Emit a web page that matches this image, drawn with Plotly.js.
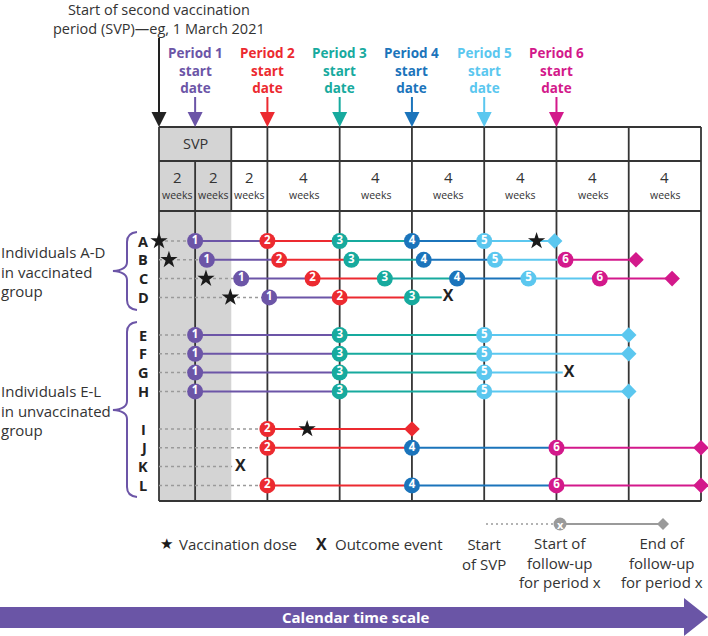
<!DOCTYPE html>
<html><head><meta charset="utf-8">
<script src="https://cdn.plot.ly/plotly-3.0.1.min.js"></script>
<style>html,body{margin:0;padding:0;background:#fff}#chart{width:708px;height:636px}</style>
</head><body><div id="chart"></div>
<script>
// ---------------- data ----------------
const weekBlocks = [2, 2, 2, 4, 4, 4, 4, 4, 4];
const blockLabels = ['2', '2', '2', '4', '4', '4', '4', '4', '4'];
const periodNames = ['Period 1', 'Period 2', 'Period 3', 'Period 4', 'Period 5', 'Period 6'];
const periodStart = [2, 6, 10, 14, 18, 22];
const periodColor = ['#6c55a7', '#ec2a30', '#17aa9e', '#1b74bb', '#5bc7ef', '#d3198b'];
const people = ['A', 'B', 'C', 'D', 'E', 'F', 'G', 'H', 'I', 'J', 'K', 'L'];
const rowIndex = [0, 1, 2, 3, 5, 6, 7, 8, 10, 11, 12, 13];
const doseWeeks = [[0, 20.9], [0.55], [2.6], [3.95], [], [], [], [], [8.2], [], [], []];
const visitPeriods = [
  [1, 2, 3, 4, 5], [1, 2, 3, 4, 5, 6], [1, 2, 3, 4, 5, 6], [1, 2, 3],
  [1, 3, 5], [1, 3, 5], [1, 3, 5], [1, 3, 5],
  [2], [2, 4, 6], [], [2, 4, 6]
];
const visitWeeks = [
  [2, 6, 10, 14, 18], [2.65, 6.65, 10.65, 14.65, 18.6, 22.5], [4.55, 8.5, 12.5, 16.5, 20.45, 24.4], [6.1, 10, 14],
  [2, 10, 18], [2, 10, 18], [2, 10, 18], [2, 10, 18],
  [6], [6, 14, 22], [], [6, 14, 22]
];
const endWeek = [21.9, 26.4, 28.4, 16, 26, 26, 22.7, 26, 14, 30, 4.5, 30];
const endType = ['diamond', 'diamond', 'diamond', 'X', 'diamond', 'diamond', 'X', 'diamond', 'diamond', 'diamond', 'X', 'diamond'];

// ---------------- geometry ----------------
const W = 708, H = 636;
const X0 = 159, PXW = 542 / 30;   // pixel of week 0, px per week
const Y0 = 241, PXR = 18.8;       // pixel of row A, px per row
const xp = p => p / W, yp = p => 1 - p / H;
const FONT = 'Open Sans, Lato, sans-serif';
const TXT = '#333333', GRID = '#353535', GRAY = '#9a9a9a';

const bounds = [0];
weekBlocks.forEach(w => bounds.push(bounds[bounds.length - 1] + w));
const TOTAL = bounds[bounds.length - 1];

// ---------------- traces ----------------
const traces = [];
const circ = {x: [], y: [], c: [], t: []};
const dia = {x: [], y: [], c: []};
const star = {x: [], y: []};
const xs = {x: [], y: []};

people.forEach((p, i) => {
  const r = rowIndex[i];
  const vx = visitWeeks[i], vp = visitPeriods[i];
  const firstX = vx.length ? vx[0] : endWeek[i] - 0.45;
  traces.push({x: [0, firstX], y: [r, r], mode: 'lines', line: {color: GRAY, width: 1.5, dash: '3px,3px'}, hoverinfo: 'skip'});
  vx.forEach((x, k) => {
    let nx = k + 1 < vx.length ? vx[k + 1] : endWeek[i];
    if (k + 1 >= vx.length && endType[i] === 'X') nx -= 0.35;
    traces.push({x: [x, nx], y: [r, r], mode: 'lines', line: {color: periodColor[vp[k] - 1], width: 2}, hoverinfo: 'skip'});
    circ.x.push(x); circ.y.push(r); circ.c.push(periodColor[vp[k] - 1]); circ.t.push('<b>' + vp[k] + '</b>');
  });
  if (endType[i] === 'diamond') {
    dia.x.push(endWeek[i]); dia.y.push(r); dia.c.push(periodColor[vp[vp.length - 1] - 1]);
  } else {
    xs.x.push(endWeek[i]); xs.y.push(r);
  }
  doseWeeks[i].forEach(d => { star.x.push(d); star.y.push(r); });
});

traces.push({x: dia.x, y: dia.y, mode: 'markers', marker: {symbol: 'diamond', size: 12, color: dia.c}, hoverinfo: 'skip'});
traces.push({x: star.x, y: star.y, mode: 'markers', marker: {symbol: 'star', size: 13, color: '#1a1a1a'}, hoverinfo: 'skip'});
traces.push({x: circ.x, y: circ.y, mode: 'markers+text', text: circ.t, textposition: 'middle center',
  textfont: {family: FONT, size: 11.5, color: '#ffffff'},
  marker: {symbol: 'circle', size: 16, color: circ.c, line: {width: 0}}, hoverinfo: 'skip'});
traces.push({x: xs.x, y: xs.y, mode: 'text', text: xs.x.map(() => '<b>X</b>'), textposition: 'middle center',
  textfont: {family: FONT, size: 16, color: '#222222'}, hoverinfo: 'skip'});

// ---------------- shapes ----------------
const shapes = [];
shapes.push({type: 'rect', xref: 'x', yref: 'paper', x0: 0, x1: 4, y0: yp(127), y1: yp(501), fillcolor: '#d4d4d4', line: {width: 0}, layer: 'below'});
[127, 161, 211, 501].forEach(py => shapes.push({type: 'line', xref: 'x', yref: 'paper', x0: 0, x1: TOTAL, y0: yp(py), y1: yp(py), line: {color: GRID, width: 1.8}, layer: 'below'}));
bounds.forEach((b, i) => {
  let top = 127, bot = 501;
  if (i === 1) top = 161;
  if (i === 2) bot = 211;
  shapes.push({type: 'line', xref: 'x', yref: 'paper', x0: b, x1: b, y0: yp(top), y1: yp(bot), line: {color: GRID, width: 1.8}, layer: 'below'});
});
function pathPx(cmds) {
  return cmds.map(c => {
    if (typeof c === 'string') return c;
    return xp(c[0]).toFixed(5) + ',' + yp(c[1]).toFixed(5);
  }).join(' ');
}
function brace(top, tip, bot) {
  return pathPx(['M', [137, top], 'Q', [127, top + 1], [127, top + 10], 'L', [127, tip - 9], 'Q', [127, tip - 1], [113, tip],
    'Q', [127, tip + 1], [127, tip + 9], 'L', [127, bot - 10], 'Q', [127, bot - 1], [137, bot]]);
}
const PURPLE = '#6c55a7';
shapes.push({type: 'path', xref: 'paper', yref: 'paper', path: brace(232, 271, 310), line: {color: PURPLE, width: 2}});
shapes.push({type: 'path', xref: 'paper', yref: 'paper', path: brace(322, 410, 497), line: {color: PURPLE, width: 2}});
shapes.push({type: 'path', xref: 'paper', yref: 'paper', fillcolor: '#6a55a6', line: {width: 0},
  path: pathPx(['M', [0, 607], 'L', [684, 607], 'L', [684, 598], 'L', [708, 617], 'L', [684, 636], 'L', [684, 628], 'L', [0, 628], 'Z'])});
shapes.push({type: 'line', xref: 'paper', yref: 'paper', x0: xp(486), x1: xp(553), y0: yp(524), y1: yp(524), line: {color: GRAY, width: 1.5, dash: '2px,3px'}});
shapes.push({type: 'line', xref: 'paper', yref: 'paper', x0: xp(566), x1: xp(658), y0: yp(524), y1: yp(524), line: {color: GRAY, width: 2}});
shapes.push({type: 'circle', xref: 'paper', yref: 'paper', x0: xp(553.5), x1: xp(566.5), y0: yp(517.5), y1: yp(530.5), fillcolor: GRAY, line: {width: 0}});
shapes.push({type: 'path', xref: 'paper', yref: 'paper', fillcolor: GRAY, line: {width: 0},
  path: pathPx(['M', [663, 518], 'L', [669, 524], 'L', [663, 530], 'L', [657, 524], 'Z'])});

// ---------------- annotations ----------------
const ann = [];
const A = o => ann.push(Object.assign({showarrow: false, xanchor: 'center', yanchor: 'middle', borderpad: 0,
  font: {family: FONT, size: 15, color: TXT}}, o));
A({xref: 'x', yref: 'paper', x: 0, y: yp(127), text: 'Start of second vaccination<br>period (SVP)\u2014eg, 1 March 2021',
  showarrow: true, ax: 0, ay: -108.5, arrowhead: 2, arrowsize: 1.5, arrowwidth: 2, arrowcolor: '#222', standoff: 0,
  font: {family: FONT, size: 14.5, color: TXT}});
periodNames.forEach((n, i) => {
  A({xref: 'x', yref: 'paper', x: periodStart[i], y: yp(127), text: '<b>' + n + '<br>start<br>date</b>',
    showarrow: true, ax: 0, ay: -57, arrowhead: 2, arrowsize: 1.5, arrowwidth: 2, arrowcolor: periodColor[i], standoff: 0,
    font: {family: FONT, size: 13.5, color: periodColor[i]}});
});
A({xref: 'x', yref: 'paper', x: 2, y: yp(144), text: 'SVP', font: {family: FONT, size: 14.5, color: TXT}});
weekBlocks.forEach((w, i) => {
  const cx = (bounds[i] + bounds[i + 1]) / 2;
  A({xref: 'x', yref: 'paper', x: cx, y: yp(177), text: blockLabels[i], font: {family: FONT, size: 15, color: TXT}});
  A({xref: 'x', yref: 'paper', x: cx, y: yp(195.5), text: 'weeks', font: {family: FONT, size: 10.5, color: TXT}});
});
people.forEach((p, i) => A({xref: 'paper', yref: 'y', x: xp(143), y: rowIndex[i], text: '<b>' + p + '</b>', font: {family: FONT, size: 14.5, color: '#222'}}));
A({xref: 'paper', yref: 'paper', x: 0, xanchor: 'left', align: 'left', y: yp(271), text: 'Individuals A-D<br>in vaccinated<br>group'});
A({xref: 'paper', yref: 'paper', x: 0, xanchor: 'left', align: 'left', y: yp(410), text: 'Individuals E-L<br>in unvaccinated<br>group'});
A({xref: 'paper', yref: 'paper', x: xp(166), y: yp(544), text: '\u2605', font: {family: 'DejaVu Sans', size: 15, color: '#1a1a1a'}});
A({xref: 'paper', yref: 'paper', x: xp(178), xanchor: 'left', y: yp(544), text: 'Vaccination dose'});
A({xref: 'paper', yref: 'paper', x: xp(321), y: yp(544), text: '<b>X</b>', font: {family: FONT, size: 16, color: '#222'}});
A({xref: 'paper', yref: 'paper', x: xp(334), xanchor: 'left', y: yp(544), text: 'Outcome event'});
A({xref: 'paper', yref: 'paper', x: xp(484), y: yp(553.5), text: 'Start<br>of SVP'});
A({xref: 'paper', yref: 'paper', x: xp(560), y: yp(562.5), text: 'Start of<br>follow-up<br>for period x'});
A({xref: 'paper', yref: 'paper', x: xp(662), y: yp(562.5), text: 'End of<br>follow-up<br>for period x'});
A({xref: 'paper', yref: 'paper', x: xp(560), y: yp(524), text: '<b>x</b>', font: {family: FONT, size: 11, color: '#fff'}});
A({xref: 'paper', yref: 'paper', x: xp(356), y: yp(617), text: '<b>Calendar time scale</b>', font: {family: FONT, size: 15, color: '#fff'}});

const layout = {
  width: W, height: H, margin: {l: 0, r: 0, t: 0, b: 0}, paper_bgcolor: '#fff', plot_bgcolor: '#fff',
  showlegend: false,
  xaxis: {range: [(0 - X0) / PXW, (W - X0) / PXW], visible: false, fixedrange: true},
  yaxis: {range: [(H - Y0) / PXR, (0 - Y0) / PXR], visible: false, fixedrange: true},
  shapes: shapes, annotations: ann
};
traces.forEach(t => { t.cliponaxis = false; t.showlegend = false; });
Plotly.newPlot('chart', traces, layout, {staticPlot: true, displayModeBar: false});
</script></body></html>
